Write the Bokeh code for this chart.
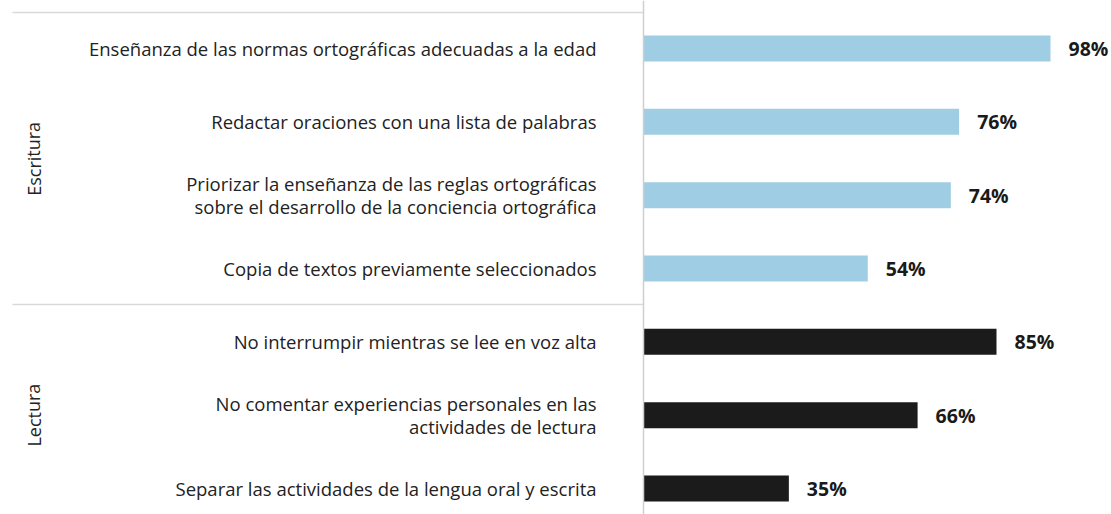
from bokeh.plotting import figure
from bokeh.models import ColumnDataSource, Range1d
from bokeh.core.properties import value
from bokeh.embed import file_html
from bokeh.resources import INLINE

categories = [
    "Enseñanza de las normas ortográficas adecuadas a la edad",
    "Redactar oraciones con una lista de palabras",
    "Priorizar la enseñanza de las reglas ortográficas\nsobre el desarrollo de la conciencia ortográfica",
    "Copia de textos previamente seleccionados",
    "No interrumpir mientras se lee en voz alta",
    "No comentar experiencias personales en las\nactividades de lectura",
    "Separar las actividades de la lengua oral y escrita",
]
groups = ["Escritura", "Escritura", "Escritura", "Escritura", "Lectura", "Lectura", "Lectura"]
values = [98, 76, 74, 54, 85, 66, 35]
value_labels = ["98%", "76%", "74%", "54%", "85%", "66%", "35%"]
group_names = ["Escritura", "Lectura"]

BLUE = "#9fcde3"
BLACK = "#1b1b1b"
colors = [BLUE if g == "Escritura" else BLACK for g in groups]
pos = list(range(len(categories)))

FONT = value("Open Sans")

W, H = 1111, 514
px_per_unit = 4.153
axis_px = 643
x_left = -axis_px / px_per_unit
x_right = (W - axis_px) / px_per_unit
band = 73.33
y_top = -48 / band
y_bottom = (H - 48) / band

p = figure(width=W, height=H, output_backend="svg", toolbar_location=None,
           x_range=Range1d(x_left, x_right), y_range=Range1d(y_bottom, y_top),
           x_axis_type=None, y_axis_type=None,
           min_border_left=0, min_border_right=0, min_border_top=0, min_border_bottom=0)
p.outline_line_color = None
p.xgrid.visible = False
p.ygrid.visible = False
p.background_fill_color = "white"

src = ColumnDataSource(dict(y=pos, v=values, c=colors, cat=categories, lab=value_labels,
                            zero=[0] * len(pos)))
p.hbar(y="y", left=0, right="v", height=26 / band, color="c", line_color=None, source=src)

# category labels
p.text(x="zero", y="y", text="cat", source=src, x_offset=-47, text_align="right",
       text_baseline="middle", text_font=FONT, text_font_size="18.5px", text_color="#222222",
       text_line_height=0.92)
# value labels
p.text(x="v", y="y", text="lab", source=src, x_offset=18, text_align="left",
       text_baseline="middle", text_font=FONT, text_font_size="19.5px", text_color="#1a1a1a",
       text_font_style="bold")

# group labels
gx = -(643 - 33) / px_per_unit
group_y = [(-0.49 + 3.5) / 2, (3.5 + 6.5) / 2]
p.text(x=[gx, gx], y=group_y, text=group_names, angle=1.5708, text_align="center",
       text_baseline="middle", text_font=FONT, text_font_size="18px", text_color="#222222")

# lines
lx0 = -(643 - 12) / px_per_unit
p.segment(x0=[lx0, lx0], x1=[0, 0], y0=[-0.49, 3.49], y1=[-0.49, 3.49],
          line_color="#d9d9d9", line_width=1.5)
p.segment(x0=[0], x1=[0], y0=[y_top], y1=[y_bottom], line_color="#cfcfcf", line_width=1.5)

open("out.html", "w").write(file_html(p, INLINE))
